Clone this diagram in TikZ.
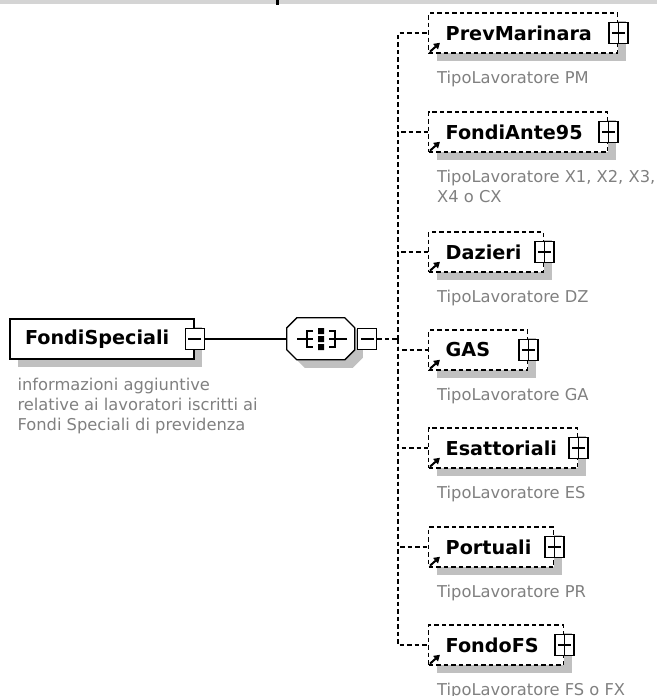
\documentclass[tikz,border=0pt]{standalone}
\usepackage{fontspec}
\setmainfont{DejaVu Sans}
\usetikzlibrary{arrows.meta, positioning, shadows}
\definecolor{shadowgray}{RGB}{192,192,192}
\definecolor{descgray}{RGB}{128,128,128}
\definecolor{bandgray}{RGB}{212,212,212}

\begin{document}
\begin{tikzpicture}[x=1pt, y=-1pt,
    elem/.style={draw, fill=white, line width=1.3pt, inner sep=0pt,
      minimum height=40pt, align=left,
      font=\fontsize{19.2}{23}\selectfont\bfseries,
      drop shadow={shadow xshift=8pt, shadow yshift=-8pt,
        fill=shadowgray, opacity=1}},
    optelem/.style={elem, line width=1.4pt, dash pattern=on 4.5pt off 3pt},
    desc/.style={inner sep=0pt, align=left, anchor=north west,
      text=descgray, font=\fontsize{16.3}{20}\selectfont},
    signbox/.style={draw, fill=white, line width=1.2pt, inner sep=0pt,
      minimum width=19pt, minimum height=21pt},
    minusbox/.style={signbox, path picture={
      \draw[line width=1.2pt] ([xshift=3pt]path picture bounding box.west)
        -- ([xshift=-3pt]path picture bounding box.east);}},
    plusbox/.style={signbox, path picture={
      \draw[line width=1.2pt] ([xshift=3pt]path picture bounding box.west)
        -- ([xshift=-3pt]path picture bounding box.east)
        (path picture bounding box.north) -- (path picture bounding box.south);}},
    seqbox/.style={inner sep=0pt, minimum width=68pt, minimum height=42pt},
    branch/.style={line width=1.4pt, dash pattern=on 4.5pt off 3pt},
    refarrow/.style={line width=2pt, -{Triangle[length=6pt, width=7pt]}}]

    \useasboundingbox (0,0) rectangle (657,696);
    \fill[bandgray] (0,0) rectangle (657,3.5);
    \fill[black] (276,0) rectangle (278.5,4.5);

    \node[elem, text width=184pt] (fs) at (102,339)
      {\hspace*{15pt}FondiSpeciali};
    \node[minusbox] (fs-minus) at (fs.east) {};
    \node[desc] (fs-desc) at ([shift={(8,18)}]fs.south west)
      {informazioni aggiuntive\\relative ai lavoratori iscritti ai\\Fondi Speciali di previdenza};

    \node[seqbox] (seq) at (321,339) {};
    \fill[shadowgray] ([shift={(18,8)}]seq.north west) -- ++(48,0) -- ++(10,10)
      -- ++(0,22) -- ++(-10,10) -- ++(-48,0) -- ++(-10,-10) -- ++(0,-22) -- cycle;
    \draw[line width=1.3pt, fill=white] ([shift={(10,0)}]seq.north west) -- ++(48,0)
      -- ++(10,10) -- ++(0,22) -- ++(-10,10) -- ++(-48,0) -- ++(-10,-10)
      -- ++(0,-22) -- cycle;
    \begin{scope}[shift={(seq.center)}, line width=1.3pt]
      \draw (-24,0) -- (-8,0) (-8,-8) -| (-14,8) -- (-8,8);
      \draw (26,0) -- (8,0) (8,-8) -| (14,8) -- (8,8);
      \fill (-3,-11) rectangle (3,-5) (-3,-3) rectangle (3,3)
        (-3,5) rectangle (3,11);
    \end{scope}
    \node[minusbox, right=2pt of seq] (seq-minus) {};
    \coordinate (joint) at (398,339);

    \draw[line width=1.3pt] (fs-minus.east) -- (seq.west);
    \draw[branch] (seq-minus.east) -- (joint);

    \foreach \name/\lab/\y/\w/\txt in {
        prev/PrevMarinara/33/189/{TipoLavoratore PM},
        ante/FondiAnte95/132/179/{TipoLavoratore X1, X2, X3,\\X4 o CX},
        daz/Dazieri/252/115/{TipoLavoratore DZ},
        gas/GAS/350/99/{TipoLavoratore GA},
        esat/Esattoriali/448/149/{TipoLavoratore ES},
        port/Portuali/547/125/{TipoLavoratore PR},
        ffs/FondoFS/645/135/{TipoLavoratore FS o FX}} {
      \draw[branch] (joint) |- (428,\y);
      \node[optelem, text width=\w pt, anchor=west] (\name) at (428,\y)
        {\hspace*{17pt}\lab};
      \node[plusbox] (\name-plus) at (\name.east) {};
      \draw[refarrow] ([shift={(2,-2)}]\name.south west) -- ++(10,-9);
      \node[desc] (\name-desc) at ([shift={(9,17)}]\name.south west) {\txt};
    }
\end{tikzpicture}
\end{document}
